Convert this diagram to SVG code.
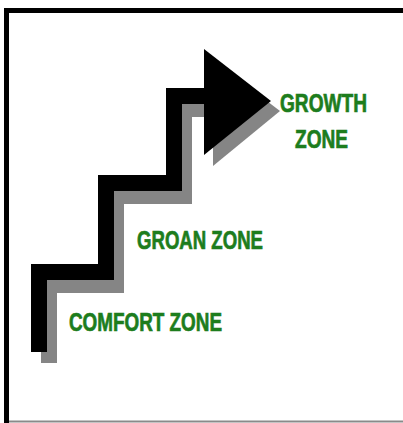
<svg xmlns="http://www.w3.org/2000/svg" width="403" height="423" viewBox="0 0 403 423">
  <style>
    .lbl { font-family: "Liberation Sans", Arial, sans-serif; font-weight: bold; font-size: 25px; fill: #1d7d1d; stroke: #1d7d1d; stroke-width: 0.7; }
    .stair { fill: none; stroke-width: 16; stroke-linejoin: miter; stroke-linecap: butt; }
  </style>
  <rect x="0" y="0" width="403" height="423" fill="#ffffff"/>
  <g id="frame">
    <rect x="4" y="8" width="399" height="5" fill="#000000"/>
    <rect x="4" y="8" width="5" height="415" fill="#000000"/>
    <rect x="9" y="420.5" width="394" height="2" fill="#8a8a8a"/>
  </g>
  <g id="shadow" fill="#858585">
    <polyline class="stair" stroke="#858585" points="49,363 49,285 116,285 116,196 184,196 184,109 215,109"/>
    <polygon points="213,60 280,111 213,166"/>
  </g>
  <g id="staircase" fill="#000000">
    <polyline class="stair" stroke="#000000" points="39,352 39,272 106,272 106,183 174,183 174,96 206,96"/>
    <polygon points="204,49 271,101 204,155"/>
  </g>
  <g id="growth-zone">
    <text class="lbl" x="280" y="112" textLength="87" lengthAdjust="spacingAndGlyphs">GROWTH</text>
    <text class="lbl" x="295" y="148" textLength="53" lengthAdjust="spacingAndGlyphs">ZONE</text>
  </g>
  <g id="groan-zone">
    <text class="lbl" x="137" y="249" textLength="126" lengthAdjust="spacingAndGlyphs">GROAN ZONE</text>
  </g>
  <g id="comfort-zone">
    <text class="lbl" x="69" y="331" textLength="153" lengthAdjust="spacingAndGlyphs">COMFORT ZONE</text>
  </g>
</svg>
